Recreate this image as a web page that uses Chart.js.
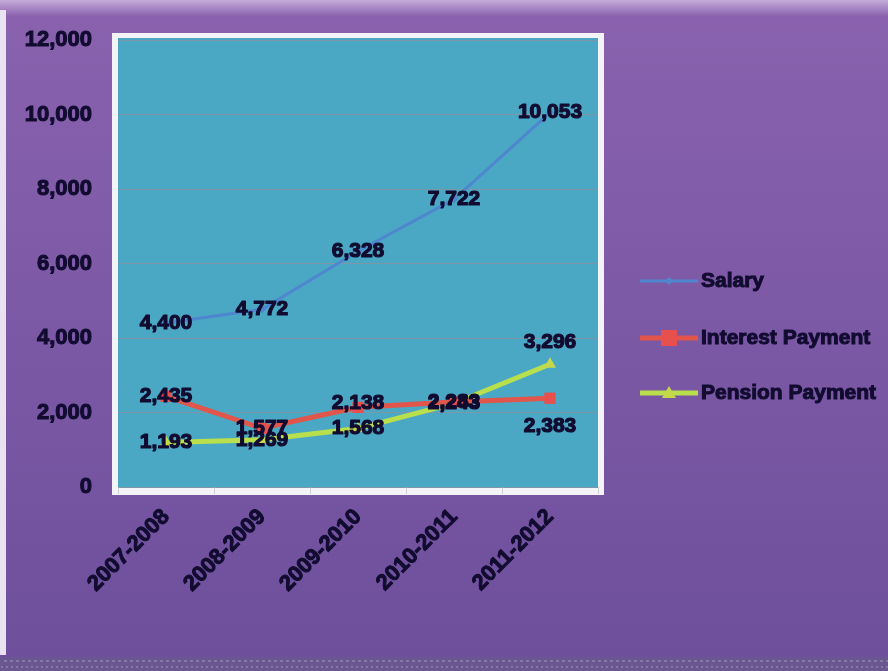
<!DOCTYPE html>
<html>
<head>
<meta charset="utf-8">
<title>Salary, Interest and Pension Payments</title>
<script src="https://cdn.jsdelivr.net/npm/chart.js@4.4.1/dist/chart.umd.min.js"></script>
<style>
  html, body { margin: 0; padding: 0; background: #7d5aa6; }
  #wrap { width: 888px; height: 671px; }
</style>
</head>
<body>
<div id="wrap"><canvas id="chart" width="888" height="671"></canvas></div>
<script>
// Data
const years = ['2007-2008', '2008-2009', '2009-2010', '2010-2011', '2011-2012'];
const salary = [4400, 4772, 6328, 7722, 10053];
const interestPayment = [2435, 1577, 2138, 2283, 2383];
const pensionPayment = [1193, 1269, 1568, 2243, 3296];
const yTicks = [0, 2000, 4000, 6000, 8000, 10000, 12000];

const FONT = "'Liberation Sans', Arial, 'DejaVu Sans', sans-serif";
const INK = '#110b30';

function fmt(v){ return v.toLocaleString('en-US'); }

// purple backdrop + framed teal plot area
const backdrop = {
  id: 'backdrop',
  beforeDraw(chart){
    const {ctx, width, height, chartArea:a} = chart;
    ctx.save();
    const g = ctx.createLinearGradient(0, 0, 0, height);
    g.addColorStop(0, '#8a62ae');
    g.addColorStop(1, '#6d4f9c');
    ctx.fillStyle = g;
    ctx.fillRect(0, 0, width, height);
    // light strip along the top
    const t = ctx.createLinearGradient(0, 0, 0, 16);
    t.addColorStop(0, '#c6addb');
    t.addColorStop(1, '#8a62ae');
    ctx.fillStyle = t;
    ctx.fillRect(0, 0, width, 16);
    // pale edge at the left
    ctx.fillStyle = '#e9e2f0';
    ctx.fillRect(0, 10, 6, height - 26);
    // speckled band at the bottom
    ctx.fillStyle = '#6a5690';
    ctx.fillRect(0, height - 14, width, 14);
    ctx.fillStyle = 'rgba(190,180,210,0.35)';
    for (let x = 4; x < width; x += 6) ctx.fillRect(x, height - 11, 3, 2);
    for (let x = 1; x < width; x += 5) ctx.fillRect(x, height - 5, 2, 2);
    // plot area
    ctx.fillStyle = '#f4f4f8';
    ctx.fillRect(a.left - 6, a.top - 7, a.right - a.left + 12, a.bottom - a.top + 15);
    ctx.fillStyle = '#4aa8c4';
    ctx.fillRect(a.left, a.top - 2, a.right - a.left, a.bottom - a.top + 3);
    ctx.restore();
  }
};

// value labels drawn at each point
const valueLabels = {
  id: 'valueLabels',
  afterDatasetsDraw(chart){
    const {ctx} = chart;
    ctx.save();
    ctx.font = 'bold 21px ' + FONT;
    ctx.fillStyle = INK;
    ctx.strokeStyle = INK;
    ctx.lineWidth = 1.2;
    ctx.lineJoin = 'round';
    ctx.textAlign = 'center';
    ctx.textBaseline = 'middle';
    chart.data.datasets.forEach((ds, i) => {
      const meta = chart.getDatasetMeta(i);
      meta.data.forEach((pt, j) => {
        const shift = (ds.labelShift && ds.labelShift[j]) || 0;
        const s = fmt(ds.data[j]);
        ctx.strokeText(s, pt.x, pt.y + shift);
        ctx.fillText(s, pt.x, pt.y + shift);
      });
    });
    ctx.restore();
  }
};

// legend on the right: line sample with marker, then name
const sideLegend = {
  id: 'sideLegend',
  afterDraw(chart){
    const {ctx, chartArea:a} = chart;
    const x0 = a.right + 42, rowY = [281, 338, 393];
    ctx.save();
    chart.data.datasets.forEach((ds, i) => {
      const y = rowY[i];
      ctx.strokeStyle = ds.borderColor;
      ctx.lineWidth = ds.borderWidth;
      ctx.beginPath(); ctx.moveTo(x0, y); ctx.lineTo(x0 + 58, y); ctx.stroke();
      ctx.fillStyle = ds.pointBackgroundColor;
      const r = ds.pointRadius, cx = x0 + 29;
      ctx.beginPath();
      if (ds.pointStyle === 'rect') ctx.rect(cx - r, y - r, 2 * r, 2 * r);
      else if (ds.pointStyle === 'triangle') { ctx.moveTo(cx, y - r); ctx.lineTo(cx + r, y + r * 0.7); ctx.lineTo(cx - r, y + r * 0.7); ctx.closePath(); }
      else { ctx.moveTo(cx, y - r); ctx.lineTo(cx + r, y); ctx.lineTo(cx, y + r); ctx.lineTo(cx - r, y); ctx.closePath(); }
      ctx.fill();
      ctx.font = 'bold 21px ' + FONT;
      ctx.fillStyle = INK;
      ctx.strokeStyle = INK;
      ctx.lineWidth = 1;
      ctx.textAlign = 'left';
      ctx.textBaseline = 'middle';
      ctx.strokeText(ds.label, x0 + 61, y);
      ctx.fillText(ds.label, x0 + 61, y);
    });
    ctx.restore();
  }
};

const tickFont = { family: FONT, weight: 'bold', size: 22 };

new Chart(document.getElementById('chart'), {
  type: 'line',
  data: {
    labels: years,
    datasets: [
      { label: 'Salary', data: salary, borderColor: '#4e86cf', borderWidth: 3,
        pointStyle: 'rectRot', pointRadius: 4, pointBackgroundColor: '#4e86cf', pointBorderWidth: 0,
        labelShift: [0, 0, 0, 0, 0] },
      { label: 'Interest Payment', data: interestPayment, borderColor: '#e2554a', borderWidth: 5,
        pointStyle: 'rect', pointRadius: 8, pointBackgroundColor: '#e8504e', pointBorderWidth: 0,
        labelShift: [0, 0, -4, 0, 28] },
      { label: 'Pension Payment', data: pensionPayment, borderColor: '#b9df4c', borderWidth: 5,
        pointStyle: 'triangle', pointRadius: 7, pointBackgroundColor: '#c4d84a', pointBorderWidth: 0,
        labelShift: [0, 0, 0, 0, -22] }
    ]
  },
  options: {
    responsive: false,
    animation: false,
    layout: { padding: { top: 40, right: 290, left: 0, bottom: 0 } },
    plugins: { legend: { display: false }, tooltip: { enabled: false } },
    elements: { line: { tension: 0 } },
    scales: {
      x: {
        offset: true,
        border: { display: false },
        grid: { offset: true, drawOnChartArea: false, color: '#cfd0dc', tickLength: 7 },
        ticks: { autoSkip: false, minRotation: 45, maxRotation: 45, padding: 10,
                 color: INK, textStrokeColor: INK, textStrokeWidth: 1, font: tickFont },
        afterFit(s){ s.height = 184; }
      },
      y: {
        min: 0, max: 12000,
        border: { display: false },
        grid: { color: 'rgba(160,140,150,0.6)', drawTicks: false },
        afterBuildTicks(s){ s.ticks = yTicks.map(v => ({ value: v })); },
        ticks: { padding: 26, color: INK, textStrokeColor: INK, textStrokeWidth: 1, font: tickFont,
                 callback: v => fmt(v) },
        afterFit(s){ s.width = 118; }
      }
    }
  },
  plugins: [backdrop, valueLabels, sideLegend]
});
</script>
</body>
</html>
